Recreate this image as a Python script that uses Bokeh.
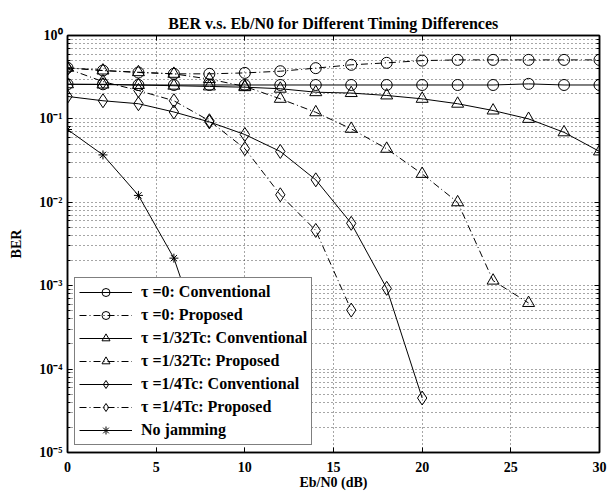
from bokeh.plotting import figure
from bokeh.models import (FixedTicker, LinearAxis, LogAxis, CustomJSTickFormatter)
from bokeh.embed import file_html
from bokeh.resources import INLINE

# ---------------- data ----------------
ebn0 = [0, 2, 4, 6, 8, 10, 12, 14, 16, 18, 20, 22, 24, 26, 28, 30]

ber_tau0_conv = [0.26, 0.26, 0.255, 0.255, 0.255, 0.255, 0.255, 0.255,
                 0.255, 0.255, 0.255, 0.255, 0.255, 0.263, 0.255, 0.255]
ber_tau0_prop = [0.41, 0.38, 0.36, 0.347, 0.347, 0.356, 0.373, 0.406,
                 0.445, 0.47, 0.50, 0.51, 0.51, 0.51, 0.51, 0.51]
ber_tau32_conv = [0.26, 0.258, 0.255, 0.25, 0.245, 0.24, 0.23, 0.209,
                  0.204, 0.191, 0.174, 0.152, 0.126, 0.100, 0.069, 0.0407]
ber_tau32_prop = [0.41, 0.38, 0.363, 0.347, 0.30, 0.245, 0.174, 0.12,
                  0.076, 0.0438, 0.0219, 0.0100, 0.00115, 0.00062]
ber_tau4_conv = [0.186, 0.165, 0.152, 0.121, 0.092, 0.065, 0.0407, 0.0186,
                 0.0056, 0.00093, 0.000045]
ber_tau4_prop = [0.40, 0.28, 0.219, 0.165, 0.095, 0.044, 0.0123, 0.0046, 0.00051]
ber_nojam = [0.0746, 0.037, 0.0121, 0.00214, 0.00012]

labels = ["\u03c4 =0: Conventional", "\u03c4 =0: Proposed",
          "\u03c4 =1/32Tc: Conventional", "\u03c4 =1/32Tc: Proposed",
          "\u03c4 =1/4Tc: Conventional", "\u03c4 =1/4Tc: Proposed",
          "No jamming"]

x_ticks = [0, 5, 10, 15, 20, 25, 30]
y_decades = [-5, -4, -3, -2, -1, 0]
y_ticks = [10.0 ** k for k in y_decades]
y_minor = [m * 10.0 ** k for k in y_decades[:-1] for m in range(2, 10)]

FONT = "Liberation Serif"

# ---------------- figure ----------------
p = figure(frame_width=532, frame_height=417, y_axis_type="log",
           x_range=(x_ticks[0], x_ticks[-1]), y_range=(y_ticks[0], y_ticks[-1]),
           output_backend="svg", toolbar_location=None,
           min_border_left=67, min_border_right=13, min_border_top=35,
           min_border_bottom=45,
           title="BER v.s. Eb/N0 for Different Timing Differences")
p.background_fill_color = "white"
p.border_fill_color = "white"
p.outline_line_color = "black"
p.outline_line_width = 1.5

p.title.align = "center"
p.title.text_font = FONT
p.title.text_font_style = "bold"
p.title.text_font_size = "16px"
p.title.text_color = "black"
p.title.standoff = 8

xt = FixedTicker(ticks=x_ticks, minor_ticks=[])
yt = FixedTicker(ticks=y_ticks, minor_ticks=y_minor)
blank = CustomJSTickFormatter(code="return ''")
pow10 = CustomJSTickFormatter(code="""
const sup = {'-': '\u207b', '0': '\u2070', '1': '\u00b9', '2': '\u00b2',
             '3': '\u00b3', '4': '\u2074', '5': '\u2075', '6': '\u2076',
             '7': '\u2077', '8': '\u2078', '9': '\u2079'};
const e = Math.round(Math.log10(tick));
return '10' + String(e).split('').map(c => sup[c]).join('');
""")

xa = p.xaxis[0]
xa.ticker = xt
xa.axis_line_width = 1.5
xa.major_tick_in = 5
xa.major_tick_out = 0
xa.minor_tick_in = 0
xa.minor_tick_out = 0
xa.major_label_text_font = FONT
xa.major_label_text_font_style = "bold"
xa.major_label_text_font_size = "14px"
xa.major_label_text_color = "black"
xa.major_label_standoff = 9
xa.axis_label = "Eb/N0 (dB)"
xa.axis_label_text_font = FONT
xa.axis_label_text_font_style = "bold"
xa.axis_label_text_font_size = "14px"
xa.axis_label_text_color = "black"
xa.axis_label_standoff = 0

ya = p.yaxis[0]
ya.ticker = yt
ya.formatter = pow10
ya.axis_line_width = 1.5
ya.major_tick_in = 5
ya.major_tick_out = 0
ya.minor_tick_in = 3
ya.minor_tick_out = 0
ya.major_label_standoff = 5
ya.major_label_text_font = FONT
ya.major_label_text_font_style = "bold"
ya.major_label_text_font_size = "14px"
ya.major_label_text_color = "black"
ya.axis_label = "BER"
ya.axis_label_text_font = FONT
ya.axis_label_text_font_style = "bold"
ya.axis_label_text_font_size = "14px"
ya.axis_label_text_color = "black"
ya.axis_label_standoff = 12

top = LinearAxis(ticker=xt, formatter=blank, major_tick_in=5, major_tick_out=0,
                 minor_tick_in=0, minor_tick_out=0, axis_line_width=1.5,
                 major_label_standoff=0, major_label_text_font_size="0px")
p.add_layout(top, "above")
right = LogAxis(ticker=yt, formatter=blank, major_tick_in=5, major_tick_out=0,
                minor_tick_in=3, minor_tick_out=0, axis_line_width=1.5,
                major_label_standoff=0, major_label_text_font_size="0px")
p.add_layout(right, "right")

for g in (p.xgrid, p.ygrid):
    g.grid_line_color = "black"
    g.grid_line_alpha = 0.7
    g.grid_line_dash = "1 3"
    g.grid_line_width = 1
p.xgrid.ticker = xt
p.ygrid.ticker = yt
p.ygrid.minor_grid_line_color = "black"
p.ygrid.minor_grid_line_alpha = 0.7
p.ygrid.minor_grid_line_dash = "1 3"

# ---------------- curves ----------------
SOLID = "solid"
DASHDOT = "7 3 1 3"
series = [
    (ber_tau0_conv, "circle", SOLID, 11),
    (ber_tau0_prop, "circle", DASHDOT, 11),
    (ber_tau32_conv, "triangle", SOLID, 12),
    (ber_tau32_prop, "triangle", DASHDOT, 12),
    (ber_tau4_conv, "diamond", SOLID, 14),
    (ber_tau4_prop, "diamond", DASHDOT, 14),
    (ber_nojam, "asterisk", SOLID, 9),
]
for (ys, mk, dash, sz), lab in zip(series, labels):
    xs = ebn0[:len(ys)]
    p.line(xs, ys, line_color="black", line_width=1, line_dash=dash,
           legend_label=lab)
    p.scatter(xs, ys, marker=mk, size=sz, line_color="black", line_width=1,
              fill_alpha=0, legend_label=lab)

lg = p.legend[0]
lg.location = "bottom_left"
lg.margin = 7
lg.padding = 4
lg.spacing = 3
lg.glyph_width = 53
lg.glyph_height = 20
lg.label_height = 20
lg.label_standoff = 9
lg.label_text_font = FONT
lg.label_text_font_style = "bold"
lg.label_text_font_size = "16px"
lg.label_text_color = "black"
lg.border_line_color = "black"
lg.border_line_width = 1.5
lg.background_fill_color = "white"
lg.background_fill_alpha = 1.0

open("out.html", "w").write(file_html(p, INLINE))
